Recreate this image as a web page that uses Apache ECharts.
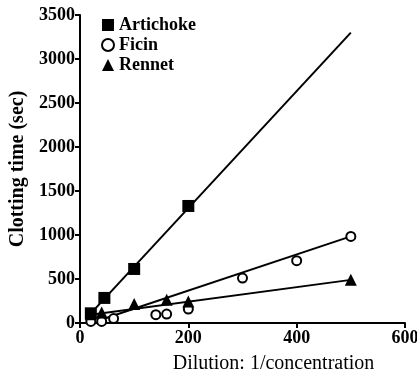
<!DOCTYPE html>
<html><head><meta charset="utf-8">
<script src="https://cdn.jsdelivr.net/npm/echarts@6/dist/echarts.min.js"></script>
<style>html,body{margin:0;padding:0;background:#fff}#c{width:417px;height:377px}</style>
</head><body><div id="c"></div>
<script>
const xTicks = [0, 200, 400, 600];
const yTicks = [0, 500, 1000, 1500, 2000, 2500, 3000, 3500];
const artichoke = [[20, 110], [45, 285], [100, 614], [200, 1330]];
const ficin = [[20, 18], [40, 18], [62, 50], [140, 94], [160, 102], [200, 159], [300, 511], [400, 708], [500, 984]];
const rennet = [[20, 100], [40, 120], [100, 216], [160, 265], [200, 245], [500, 492]];
const artichokeFit = [[20, 110], [500, 3300]];
const ficinFit = [[40, 40], [500, 984]];
const rennetFit = [[20, 95], [500, 490]];

const font = 'Liberation Serif';
const chart = echarts.init(document.getElementById('c'));
const axisCommon = {
  axisLine: {show: true, lineStyle: {color: '#000', width: 2}},
  axisTick: {show: true, length: 5, lineStyle: {color: '#000', width: 2}},
  splitLine: {show: false},
  axisLabel: {color: '#000', fontFamily: font, fontWeight: 'bold', fontSize: 18, formatter: v => String(v)}
};
chart.setOption({
  animation: false,
  grid: {left: 80, right: 12, top: 15, bottom: 54, containLabel: false, outerBoundsMode: 'none'},
  legend: {
    left: 96, top: 11, orient: 'vertical', itemGap: 2, itemWidth: 12, itemHeight: 12,
    textStyle: {color: '#000', fontFamily: font, fontWeight: 'bold', fontSize: 18},
    data: [
      {name: 'Artichoke', icon: 'rect'},
      {name: 'Ficin', icon: 'emptyCircle'},
      {name: 'Rennet', icon: 'triangle'}
    ]
  },
  xAxis: Object.assign({}, axisCommon, {
    type: 'value', min: xTicks[0], max: xTicks[xTicks.length - 1], interval: 200,
    name: 'Dilution: 1/concentration', nameLocation: 'middle', nameGap: 31,
    nameTextStyle: {color: '#000', fontFamily: font, fontWeight: 'normal', fontSize: 20, padding: [0, 0, 0, 62]},
    axisLabel: Object.assign({}, axisCommon.axisLabel, {margin: 6})
  }),
  yAxis: Object.assign({}, axisCommon, {
    type: 'value', min: yTicks[0], max: yTicks[yTicks.length - 1], interval: 500,
    name: 'Clotting time (sec)', nameLocation: 'middle', nameGap: 52,
    nameTextStyle: {color: '#000', fontFamily: font, fontWeight: 'bold', fontSize: 20},
    axisLabel: Object.assign({}, axisCommon.axisLabel, {margin: 5})
  }),
  series: [
    {type: 'line', data: artichokeFit, symbol: 'none', lineStyle: {color: '#000', width: 2}, silent: true, z: 1},
    {type: 'line', data: ficinFit, symbol: 'none', lineStyle: {color: '#000', width: 2}, silent: true, z: 1},
    {type: 'line', data: rennetFit, symbol: 'none', lineStyle: {color: '#000', width: 2}, silent: true, z: 1},
    {name: 'Artichoke', type: 'scatter', data: artichoke, symbol: 'rect', symbolSize: 12, itemStyle: {color: '#000', opacity: 1}, z: 3},
    {name: 'Ficin', type: 'scatter', data: ficin, symbol: 'emptyCircle', symbolSize: 9, itemStyle: {color: '#000', borderWidth: 2, opacity: 1}, z: 3},
    {name: 'Rennet', type: 'scatter', data: rennet, symbol: 'triangle', symbolSize: 12, itemStyle: {color: '#000', opacity: 1}, z: 3}
  ]
});
</script></body></html>
